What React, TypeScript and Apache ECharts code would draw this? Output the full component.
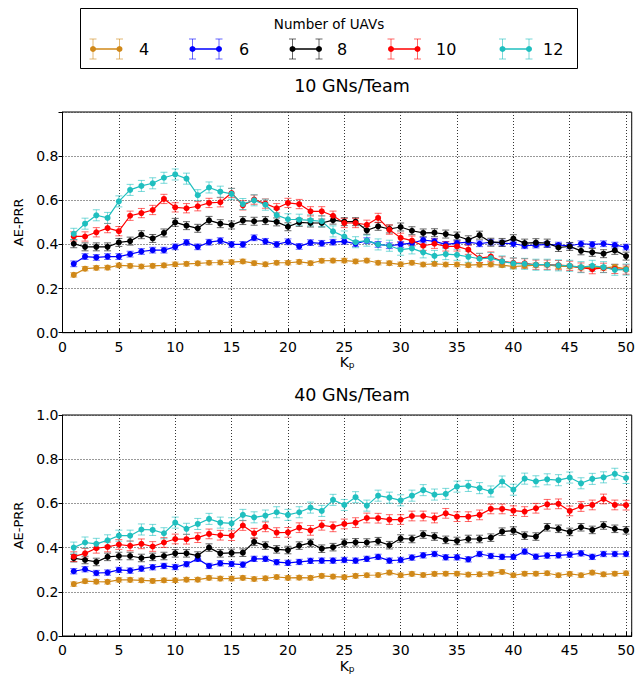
import React, { useEffect, useRef } from 'react';
import * as echarts from 'echarts';

const KP = [1,2,3,4,5,6,7,8,9,10,11,12,13,14,15,16,17,18,19,20,21,22,23,24,25,26,27,28,29,30,31,32,33,34,35,36,37,38,39,40,41,42,43,44,45,46,47,48,49,50];
const UAVS = ['4', '6', '8', '10', '12'];
const X_TICKS = [0, 5, 10, 15, 20, 25, 30, 35, 40, 45, 50];

// 10 GNs/Team
const T4 = [0.262,0.290,0.294,0.295,0.305,0.303,0.300,0.303,0.305,0.310,0.312,0.314,0.317,0.318,0.320,0.323,0.315,0.310,0.317,0.317,0.321,0.315,0.326,
  0.327,0.327,0.323,0.327,0.317,0.315,0.310,0.317,0.309,0.312,0.309,0.309,0.306,0.308,0.309,0.306,0.300,0.303,0.306,0.308,0.300,0.300,0.295,0.297,0.294,0.298,0.289];
const T6 = [0.312,0.345,0.341,0.345,0.345,0.356,0.368,0.374,0.374,0.389,0.409,0.389,0.410,0.417,0.400,0.400,0.430,0.414,0.400,0.412,0.391,0.408,0.405,
  0.410,0.414,0.403,0.417,0.400,0.394,0.400,0.406,0.420,0.414,0.400,0.406,0.410,0.403,0.410,0.406,0.403,0.394,0.397,0.400,0.397,0.394,0.403,0.400,0.403,0.397,0.388];
const T8 = [0.403,0.389,0.389,0.389,0.409,0.415,0.444,0.427,0.452,0.500,0.485,0.473,0.509,0.494,0.488,0.508,0.505,0.508,0.502,0.480,0.500,0.497,0.497,
  0.510,0.503,0.503,0.464,0.482,0.470,0.479,0.462,0.452,0.453,0.447,0.438,0.421,0.442,0.410,0.409,0.426,0.406,0.408,0.406,0.386,0.391,0.371,0.364,0.358,0.373,0.347];
const T10 = [0.436,0.436,0.455,0.474,0.460,0.530,0.542,0.556,0.606,0.568,0.564,0.573,0.588,0.591,0.633,0.577,0.603,0.585,0.564,0.588,0.583,0.550,0.550,
  0.530,0.497,0.497,0.489,0.520,0.467,0.430,0.417,0.394,0.403,0.391,0.391,0.376,0.338,0.345,0.323,0.317,0.314,0.308,0.308,0.306,0.303,0.295,0.288,0.294,0.289,0.286];
const T12 = [0.448,0.494,0.532,0.520,0.595,0.647,0.665,0.677,0.702,0.717,0.698,0.623,0.658,0.639,0.629,0.583,0.600,0.580,0.533,0.514,0.512,0.509,0.505,
  0.459,0.436,0.410,0.417,0.400,0.394,0.376,0.382,0.364,0.348,0.356,0.353,0.344,0.335,0.338,0.323,0.314,0.312,0.308,0.308,0.305,0.303,0.297,0.303,0.297,0.285,0.286];

// 40 GNs/Team
const B4 = [0.235,0.248,0.246,0.245,0.254,0.254,0.252,0.249,0.252,0.252,0.255,0.255,0.263,0.260,0.260,0.263,0.258,0.261,0.267,0.263,0.264,0.263,0.272,
  0.269,0.266,0.272,0.275,0.276,0.287,0.275,0.281,0.276,0.281,0.282,0.282,0.278,0.279,0.282,0.290,0.275,0.282,0.282,0.284,0.275,0.281,0.275,0.287,0.279,0.282,0.284];
const B6 = [0.293,0.302,0.285,0.287,0.299,0.296,0.305,0.311,0.317,0.312,0.325,0.349,0.317,0.329,0.326,0.323,0.349,0.349,0.334,0.331,0.335,0.340,0.341,
  0.341,0.344,0.341,0.349,0.358,0.341,0.344,0.355,0.365,0.371,0.356,0.356,0.347,0.371,0.362,0.358,0.358,0.382,0.359,0.364,0.365,0.368,0.374,0.358,0.371,0.371,0.371];
const B8 = [0.352,0.344,0.335,0.358,0.362,0.362,0.353,0.358,0.362,0.374,0.374,0.364,0.400,0.374,0.376,0.377,0.426,0.409,0.392,0.389,0.409,0.421,0.395,
  0.402,0.421,0.424,0.423,0.429,0.411,0.441,0.439,0.459,0.450,0.435,0.430,0.439,0.439,0.445,0.472,0.477,0.454,0.450,0.492,0.485,0.471,0.492,0.480,0.500,0.485,0.478];
const B10 = [0.359,0.374,0.397,0.403,0.414,0.408,0.417,0.405,0.423,0.439,0.438,0.445,0.462,0.456,0.454,0.500,0.465,0.494,0.468,0.469,0.490,0.478,0.501,
  0.494,0.507,0.513,0.534,0.533,0.527,0.527,0.543,0.543,0.534,0.555,0.540,0.540,0.548,0.575,0.575,0.567,0.563,0.578,0.596,0.598,0.566,0.586,0.593,0.620,0.593,0.592];
const B12 = [0.400,0.423,0.417,0.433,0.454,0.454,0.482,0.480,0.465,0.513,0.485,0.507,0.530,0.513,0.510,0.548,0.537,0.545,0.560,0.548,0.560,0.581,0.566,
  0.616,0.593,0.628,0.590,0.635,0.626,0.614,0.635,0.660,0.640,0.643,0.676,0.679,0.669,0.654,0.699,0.662,0.712,0.700,0.709,0.705,0.717,0.691,0.711,0.718,0.734,0.715];

// error-bar half widths per series (4, 6, 8, 10, 12 UAVs)
const ERR_TOP = [0.010, 0.013, 0.018, 0.021, 0.025];
const ERR_BOT = [0.010, 0.012, 0.017, 0.022, 0.025];

const TOP_SERIES = [T4, T6, T8, T10, T12];
const BOT_SERIES = [B4, B6, B8, B10, B12];

const COLORS = ['#d08818', '#0000ff', '#000000', '#ff0000', '#1fbfbf'];
const FONT = 'DejaVu Sans';

function lineSeries(name: string, values: number[], color: string, gi: number) {
  return {
    type: 'line',
    name,
    xAxisIndex: gi,
    yAxisIndex: gi,
    data: KP.map((k, i) => [k, values[i]]),
    symbol: 'circle',
    symbolSize: 6,
    showSymbol: true,
    lineStyle: { color, width: 1.2 },
    itemStyle: { color },
    emphasis: { disabled: true },
  };
}

function errSeries(name: string, values: number[], err: number, color: string, gi: number) {
  return {
    type: 'custom',
    name,
    xAxisIndex: gi,
    yAxisIndex: gi,
    data: KP.map((k, i) => [k, values[i], err]),
    encode: { x: 0, y: 1 },
    renderItem: (_params: any, api: any) => {
      const x = api.value(0);
      const y = api.value(1);
      const e = api.value(2);
      const lo = api.coord([x, y - e]);
      const hi = api.coord([x, y + e]);
      const cw = 3.5;
      const st = { stroke: color, lineWidth: 1, opacity: 0.6 };
      return {
        type: 'group',
        children: [
          { type: 'line', shape: { x1: lo[0], y1: lo[1], x2: hi[0], y2: hi[1] }, style: st },
          { type: 'line', shape: { x1: lo[0] - cw, y1: lo[1], x2: lo[0] + cw, y2: lo[1] }, style: st },
          { type: 'line', shape: { x1: hi[0] - cw, y1: hi[1], x2: hi[0] + cw, y2: hi[1] }, style: st },
        ],
      };
    },
  };
}

function xAxis(gi: number) {
  return {
    type: 'value',
    gridIndex: gi,
    min: 0,
    max: 50.5,
    interval: 5,
    axisLine: { show: true, lineStyle: { color: '#000', width: 1 } },
    axisTick: { show: true, inside: true, length: 4, lineStyle: { color: '#000' } },
    minorTick: { show: true, splitNumber: 5, length: 2.5, lineStyle: { color: '#000' } },
    axisLabel: {
      color: '#000',
      fontFamily: FONT,
      fontSize: 14,
      margin: 7,
      formatter: (v: number) => (X_TICKS.indexOf(v) >= 0 ? String(v) : ''),
    },
    splitLine: { show: true, lineStyle: { color: '#333', width: 1, type: [1, 2] } },
    name: '{k|K}{p|p}',
    nameLocation: 'middle',
    nameGap: 22,
    nameTextStyle: {
      rich: {
        k: { fontFamily: FONT, fontSize: 14, color: '#000' },
        p: { fontFamily: FONT, fontSize: 9, color: '#000', verticalAlign: 'bottom', padding: [6, 0, 0, 0] },
      },
    },
  };
}

function yAxis(gi: number, hideTop: boolean) {
  return {
    type: 'value',
    gridIndex: gi,
    min: 0,
    max: 1,
    interval: 0.2,
    axisLine: { show: true, lineStyle: { color: '#000', width: 1 } },
    axisTick: { show: true, inside: false, length: 4, lineStyle: { color: '#000' } },
    axisLabel: {
      color: '#000',
      fontFamily: FONT,
      fontSize: 14,
      margin: 4,
      formatter: (v: number) => (hideTop && v >= 0.999 ? '' : v.toFixed(1)),
    },
    splitLine: { show: true, lineStyle: { color: '#333', width: 1, type: [1, 2] } },
    name: 'AE-PRR',
    nameLocation: 'middle',
    nameGap: 36,
    nameTextStyle: { fontFamily: FONT, fontSize: 13, color: '#000' },
  };
}

const LEG_ICON_X = [93, 192.5, 292.5, 391, 502.5];
const LEG_TEXT_X = [139, 239, 337, 436, 543];

function legendGraphics() {
  const els: any[] = [
    {
      type: 'rect',
      shape: { x: 80.5, y: 8.5, width: 497, height: 60 },
      style: { fill: '#fff', stroke: '#000', lineWidth: 1 },
      z: 10,
    },
    {
      type: 'text',
      x: 329,
      y: 24,
      style: { text: 'Number of UAVs', fontFamily: FONT, fontSize: 13.5, fill: '#000', textAlign: 'center', textVerticalAlign: 'middle' },
      z: 11,
    },
  ];
  UAVS.forEach((u, i) => {
    const x0 = LEG_ICON_X[i];
    const x1 = x0 + 26.5;
    const yc = 49;
    const c = COLORS[i];
    const eb = { stroke: c, lineWidth: 1, opacity: 0.6 };
    [x0, x1].forEach((xx) => {
      els.push({ type: 'line', shape: { x1: xx, y1: yc - 10, x2: xx, y2: yc + 10 }, style: eb, z: 11 });
      els.push({ type: 'line', shape: { x1: xx - 3.5, y1: yc - 10, x2: xx + 3.5, y2: yc - 10 }, style: eb, z: 11 });
      els.push({ type: 'line', shape: { x1: xx - 3.5, y1: yc + 10, x2: xx + 3.5, y2: yc + 10 }, style: eb, z: 11 });
      els.push({ type: 'circle', shape: { cx: xx, cy: yc, r: 3 }, style: { fill: c }, z: 12 });
    });
    els.push({ type: 'line', shape: { x1: x0, y1: yc, x2: x1, y2: yc }, style: { stroke: c, lineWidth: 1.5 }, z: 11 });
    els.push({
      type: 'text',
      x: LEG_TEXT_X[i],
      y: yc,
      style: { text: u, fontFamily: FONT, fontSize: 16, fill: '#000', textAlign: 'left', textVerticalAlign: 'middle' },
      z: 11,
    });
  });
  els.push({
    type: 'text',
    x: 352,
    y: 86,
    style: { text: '10 GNs/Team', fontFamily: FONT, fontSize: 17.5, fill: '#000', textAlign: 'center', textVerticalAlign: 'middle' },
  });
  els.push({
    type: 'text',
    x: 352,
    y: 395,
    style: { text: '40 GNs/Team', fontFamily: FONT, fontSize: 17.5, fill: '#000', textAlign: 'center', textVerticalAlign: 'middle' },
  });
  return els;
}

export default function App() {
  const ref = useRef<HTMLDivElement>(null);
  useEffect(() => {
    if (!ref.current) return;
    const chart = echarts.init(ref.current, undefined, { renderer: 'svg' });
    const series: any[] = [];
    [0, 1].forEach((gi) => {
      const sets = gi === 0 ? TOP_SERIES : BOT_SERIES;
      const errs = gi === 0 ? ERR_TOP : ERR_BOT;
      sets.forEach((vals, i) => {
        series.push(errSeries(UAVS[i], vals, errs[i], COLORS[i], gi));
        series.push(lineSeries(UAVS[i], vals, COLORS[i], gi));
      });
    });
    chart.setOption({
      animation: false,
      backgroundColor: '#fff',
      grid: [
        { left: 62.5, top: 112, width: 574, height: 220.7, show: true, borderColor: '#000', borderWidth: 1, backgroundColor: 'transparent' },
        { left: 62.5, top: 415, width: 574, height: 221, show: true, borderColor: '#000', borderWidth: 1, backgroundColor: 'transparent' },
      ],
      xAxis: [xAxis(0), xAxis(1)],
      yAxis: [yAxis(0, true), yAxis(1, false)],
      graphic: legendGraphics(),
      series,
    });
    return () => chart.dispose();
  }, []);
  return (
    <div style={{ position: 'absolute', left: 0, top: 0, width: 638, height: 680 }}>
      <div ref={ref} style={{ width: 638, height: 680 }} />
    </div>
  );
}
